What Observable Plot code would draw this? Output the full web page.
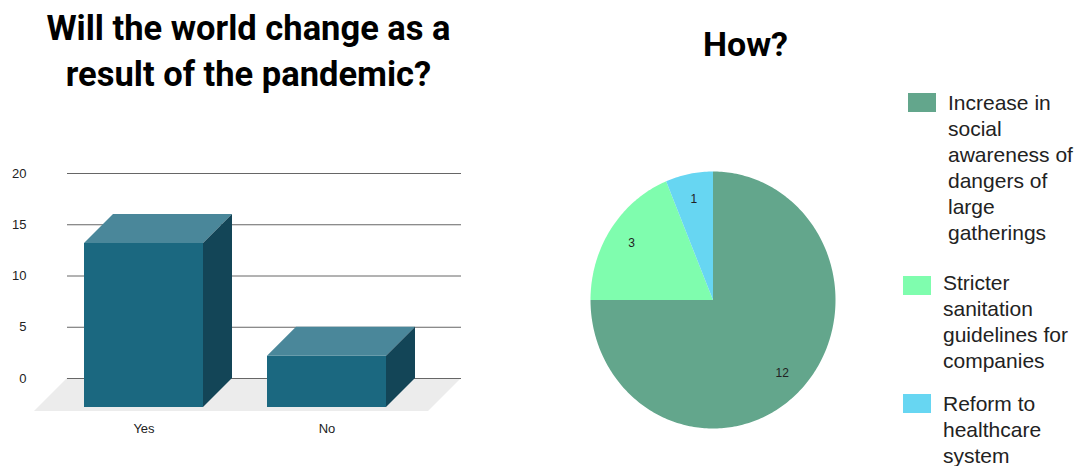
<!DOCTYPE html>
<html>
<head>
<meta charset="utf-8">
<script src="https://cdn.jsdelivr.net/npm/d3@7"></script>
<script src="https://cdn.jsdelivr.net/npm/@observablehq/plot@0.6"></script>
<style>
  html, body { margin: 0; padding: 0; background: #fff; }
  #page { position: relative; width: 1081px; height: 466px; overflow: hidden; font-family: "Liberation Sans", Arial, sans-serif; }
  .title { position: absolute; font-family: Roboto, sans-serif; font-weight: 700; color: #000; text-align: center; }
  #t1 { left: 0; top: 5px; width: 497px; font-size: 34.5px; line-height: 46px; }
  #t2 { left: 645px; top: 21px; width: 201px; font-size: 34px; line-height: 46px; }
  #bars { position: absolute; left: 0; top: 150px; }
  #pie { position: absolute; left: 560px; top: 150px; }
  .sw { position: absolute; width: 28px; height: 19px; }
  .lbl { position: absolute; width: 135px; font-size: 21px; line-height: 26px; color: #222; }
</style>
</head>
<body>
<div id="page">
  <div class="title" id="t1">Will the world change as a result of the pandemic?</div>
  <div class="title" id="t2">How?</div>
  <div id="bars"></div>
  <div id="pie"></div>
  <div id="legend"></div>
</div>
<script>
// ---- Data ----
const answers = ["Yes", "No"];
const answerCounts = [16, 5];
const yTicks = [0, 5, 10, 15, 20];

const howLabels = [
  "Increase in social awareness of dangers of large gatherings",
  "Stricter sanitation guidelines for companies",
  "Reform to healthcare system"
];
const howCounts = [12, 3, 1];
const howColors = ["#63a68c", "#7ffdae", "#67d6f2"];

// ---- Bar chart (3D style) ----
const barData = answers.map((a, i) => ({answer: a, count: answerCounts[i]}));
const depth = 29;
const floorDepth = 33;

const barChart = Plot.plot({
  width: 480,
  height: 300,
  marginLeft: 67,
  marginRight: 19,
  marginTop: 23,
  marginBottom: 72,
  style: {fontFamily: "'Liberation Sans', Arial, sans-serif", fontSize: "13px", color: "#222", overflow: "visible"},
  x: {domain: answers, paddingInner: 0.35, paddingOuter: 0.25, axis: null},
  y: {domain: [0, 20], axis: null},
  marks: [
    Plot.ruleY([0], {
      render(index, scales, values, dims) {
        const y0 = scales.y(0);
        const xL = dims.marginLeft, xR = dims.width - dims.marginRight;
        const g = d3.create("svg:g");
        g.append("path")
          .attr("d", `M${xL},${y0}L${xR},${y0}L${xR - floorDepth},${y0 + floorDepth}L${xL - floorDepth},${y0 + floorDepth}Z`)
          .attr("fill", "#ececec");
        return g.node();
      }
    }),
    Plot.gridY(yTicks, {stroke: "#666", strokeOpacity: 1}),
    Plot.axisY(yTicks, {tickSize: 0, tickPadding: 41, fontSize: 13, fill: "#222", label: null}),
    Plot.barY(barData, {
      x: "answer", y: "count",
      render(index, scales) {
        const g = d3.create("svg:g");
        const bw = scales.x.bandwidth();
        for (const i of index) {
          const d = barData[i];
          const x0 = scales.x(d.answer), x1 = x0 + bw;
          const yv = scales.y(d.count), y0 = scales.y(0);
          // front face
          g.append("path")
            .attr("d", `M${x0 - depth},${yv + depth}L${x1 - depth},${yv + depth}L${x1 - depth},${y0 + depth}L${x0 - depth},${y0 + depth}Z`)
            .attr("fill", "#1b6880");
          // top face
          g.append("path")
            .attr("d", `M${x0 - depth},${yv + depth}L${x1 - depth},${yv + depth}L${x1},${yv}L${x0},${yv}Z`)
            .attr("fill", "#4a879a");
          // side face
          g.append("path")
            .attr("d", `M${x1 - depth},${yv + depth}L${x1},${yv}L${x1},${y0}L${x1 - depth},${y0 + depth}Z`)
            .attr("fill", "#134557");
        }
        return g.node();
      }
    }),
    Plot.text(barData, {x: "answer", y: () => 0, text: "answer", dx: -depth, dy: 50, fontSize: 13, fill: "#222"})
  ]
});
document.getElementById("bars").appendChild(barChart);

// ---- Pie chart ----
const total = d3.sum(howCounts);
const wedgePts = [];
const pieLabels = [];
let acc = 0;
howLabels.forEach((lab, i) => {
  const a0 = acc / total * 2 * Math.PI;
  acc += howCounts[i];
  const a1 = acc / total * 2 * Math.PI;
  wedgePts.push({slice: lab, x: 0, y: 0});
  const n = Math.max(2, Math.ceil((a1 - a0) / (Math.PI / 180)));
  for (let k = 0; k <= n; k++) {
    const a = a0 + (a1 - a0) * k / n;
    wedgePts.push({slice: lab, x: Math.sin(a), y: Math.cos(a)});
  }
  const am = (a0 + a1) / 2;
  pieLabels.push({x: 0.8 * Math.sin(am), y: 0.8 * Math.cos(am), text: String(howCounts[i])});
});

const pieChart = Plot.plot({
  width: 300,
  height: 300,
  marginLeft: 30,
  marginRight: 25,
  marginTop: 21,
  marginBottom: 22,
  style: {fontFamily: "'Liberation Sans', Arial, sans-serif", overflow: "visible"},
  x: {domain: [-1, 1], axis: null},
  y: {domain: [-1, 1], axis: null},
  color: {domain: howLabels, range: howColors},
  marks: [
    Plot.line(wedgePts, {x: "x", y: "y", z: "slice", fill: "slice", stroke: "none"}),
    Plot.text(pieLabels, {x: "x", y: "y", text: "text", fontSize: 12, fill: "#222"})
  ]
});
document.getElementById("pie").appendChild(pieChart);

// ---- Legend ----
const legendPos = [
  {sx: 908, sy: 93, tx: 948, ty: 90},
  {sx: 903, sy: 276, tx: 943, ty: 270},
  {sx: 903, sy: 394, tx: 943, ty: 391}
];
const legend = document.getElementById("legend");
howLabels.forEach((lab, i) => {
  const p = legendPos[i];
  const sw = document.createElement("div");
  sw.className = "sw";
  sw.style.left = p.sx + "px"; sw.style.top = p.sy + "px";
  sw.style.background = howColors[i];
  const t = document.createElement("div");
  t.className = "lbl";
  t.style.left = p.tx + "px"; t.style.top = p.ty + "px";
  t.textContent = lab;
  legend.appendChild(sw);
  legend.appendChild(t);
});
</script>
</body>
</html>
